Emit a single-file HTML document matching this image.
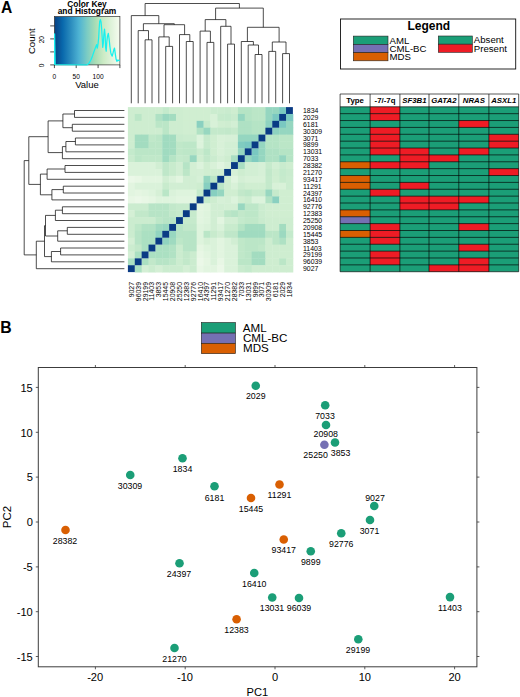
<!DOCTYPE html>
<html><head><meta charset="utf-8"><title>Figure</title>
<style>html,body{margin:0;padding:0;background:#fff}svg{display:block}</style></head>
<body>
<svg width="520" height="697" viewBox="0 0 520 697" font-family='"Liberation Sans", sans-serif'>
<rect width="520" height="697" fill="#fff"/>
<text x="0.9" y="13.3" font-size="15.6" font-weight="bold">A</text>
<text x="0.2" y="332.8" font-size="15.8" font-weight="bold">B</text>
<defs><linearGradient id="gk" x1="0" x2="1" y1="0" y2="0">
<stop offset="0.0000" stop-color="#084081"/>
<stop offset="0.1250" stop-color="#0868ac"/>
<stop offset="0.2500" stop-color="#2b8cbe"/>
<stop offset="0.3750" stop-color="#4eb3d3"/>
<stop offset="0.5000" stop-color="#7bccc4"/>
<stop offset="0.6250" stop-color="#a8ddb5"/>
<stop offset="0.7500" stop-color="#ccebc5"/>
<stop offset="0.8750" stop-color="#e0f3db"/>
<stop offset="1.0000" stop-color="#f7fcf0"/>
</linearGradient></defs>
<rect x="54.4" y="16.6" width="65.5" height="48.3" fill="url(#gk)"/>
<g font-weight="bold" font-size="8.4" text-anchor="middle"><text x="87" y="7.3">Color Key</text><text x="87" y="13.8">and Histogram</text></g>
<g stroke="#000" stroke-width="0.7" fill="none">
<rect x="54.4" y="16.6" width="65.5" height="48.3" stroke="#333"/>
<path d="M54.4 64.9v3.2"/>
<path d="M76.2 64.9v3.2"/>
<path d="M98.1 64.9v3.2"/>
<path d="M119.9 64.9v3.2"/>
<path d="M54.4 64.9h-4.2"/>
<path d="M54.4 51.9h-4.2"/>
<path d="M54.4 38.9h-4.2"/>
<path d="M54.4 25.9h-4.2"/>
</g>
<g font-size="6.6" text-anchor="middle">
<text x="54.4" y="78.7">0</text>
<text x="76.2" y="78.7">50</text>
<text x="98.1" y="78.7">100</text>
</g>
<text x="87" y="87.8" font-size="9.5" text-anchor="middle">Value</text>
<text transform="translate(35.2 41.2) rotate(-90)" font-size="9.7" text-anchor="middle">Count</text>
<text transform="translate(44.2 39.7) rotate(-90)" font-size="6.6" text-anchor="middle">20</text>
<text transform="translate(44.2 65.3) rotate(-90)" font-size="6.6" text-anchor="middle">0</text>
<polyline points="54.6,64.8 54.6,33.8 55.2,64.6 87.1,64.8 88.7,63.6 91.0,59.7 92.5,55.9 94.1,51.2 95.6,47.3 96.6,44.6 97.3,48.1 98.1,43.5 98.7,37.3 99.2,28.0 99.7,21.4 100.4,19.6 101.1,22.5 101.7,29.5 102.2,38.0 102.7,47.3 103.3,43.5 103.9,34.2 104.5,29.1 105.1,34.9 105.6,47.3 106.2,51.2 106.8,41.9 107.5,36.1 108.3,33.4 109.1,38.8 109.9,46.6 110.7,52.4 111.4,54.7 112.2,56.2 113.0,53.1 113.8,49.8 114.5,48.1 115.3,53.9 116.1,59.3 116.9,61.4 118.0,59.9 119.0,60.7 119.7,60.2" fill="none" stroke="#19f0ee" stroke-width="1.25" stroke-linejoin="round"/>
<g>
<rect x="127.90" y="107.10" width="7.28" height="7.28" fill="#ceedd0"/>
<rect x="134.78" y="107.10" width="7.28" height="7.28" fill="#ceedd0"/>
<rect x="141.65" y="107.10" width="7.28" height="7.28" fill="#ceedd0"/>
<rect x="148.53" y="107.10" width="7.28" height="7.28" fill="#ceedd0"/>
<rect x="155.40" y="107.10" width="7.28" height="7.28" fill="#ceedd0"/>
<rect x="162.28" y="107.10" width="7.28" height="7.28" fill="#c4eacc"/>
<rect x="169.15" y="107.10" width="7.28" height="7.28" fill="#ceedd0"/>
<rect x="176.03" y="107.10" width="7.28" height="7.28" fill="#ceedd0"/>
<rect x="182.90" y="107.10" width="7.28" height="7.28" fill="#d0eed1"/>
<rect x="189.78" y="107.10" width="7.28" height="7.28" fill="#d0eed1"/>
<rect x="196.65" y="107.10" width="7.28" height="7.28" fill="#d0eed1"/>
<rect x="203.53" y="107.10" width="7.28" height="7.28" fill="#d0eed1"/>
<rect x="210.40" y="107.10" width="7.28" height="7.28" fill="#cbeccf"/>
<rect x="217.28" y="107.10" width="7.28" height="7.28" fill="#cbeccf"/>
<rect x="224.15" y="107.10" width="7.28" height="7.28" fill="#c9ebce"/>
<rect x="231.03" y="107.10" width="7.28" height="7.28" fill="#ceedd0"/>
<rect x="237.90" y="107.10" width="7.28" height="7.28" fill="#b5e4c5"/>
<rect x="244.78" y="107.10" width="7.28" height="7.28" fill="#b5e4c5"/>
<rect x="251.65" y="107.10" width="7.28" height="7.28" fill="#bbe6c7"/>
<rect x="258.52" y="107.10" width="7.28" height="7.28" fill="#bbe6c7"/>
<rect x="265.40" y="107.10" width="7.28" height="7.28" fill="#95d6c0"/>
<rect x="272.27" y="107.10" width="7.28" height="7.28" fill="#95d6c0"/>
<rect x="279.15" y="107.10" width="7.28" height="7.28" fill="#7ac8c1"/>
<rect x="127.90" y="113.97" width="7.28" height="7.28" fill="#ceedd0"/>
<rect x="134.78" y="113.97" width="7.28" height="7.28" fill="#bbe6c7"/>
<rect x="141.65" y="113.97" width="7.28" height="7.28" fill="#ceedd0"/>
<rect x="148.53" y="113.97" width="7.28" height="7.28" fill="#ceedd0"/>
<rect x="155.40" y="113.97" width="7.28" height="7.28" fill="#afe1c4"/>
<rect x="162.28" y="113.97" width="7.28" height="7.28" fill="#9cd9c0"/>
<rect x="169.15" y="113.97" width="7.28" height="7.28" fill="#a3dcc0"/>
<rect x="176.03" y="113.97" width="7.28" height="7.28" fill="#ceedd0"/>
<rect x="182.90" y="113.97" width="7.28" height="7.28" fill="#d0eed1"/>
<rect x="189.78" y="113.97" width="7.28" height="7.28" fill="#d0eed1"/>
<rect x="196.65" y="113.97" width="7.28" height="7.28" fill="#d0eed1"/>
<rect x="203.53" y="113.97" width="7.28" height="7.28" fill="#d0eed1"/>
<rect x="210.40" y="113.97" width="7.28" height="7.28" fill="#d8f1d8"/>
<rect x="217.28" y="113.97" width="7.28" height="7.28" fill="#c6eacc"/>
<rect x="224.15" y="113.97" width="7.28" height="7.28" fill="#c4eacc"/>
<rect x="231.03" y="113.97" width="7.28" height="7.28" fill="#c9ebce"/>
<rect x="237.90" y="113.97" width="7.28" height="7.28" fill="#95d6c0"/>
<rect x="244.78" y="113.97" width="7.28" height="7.28" fill="#b5e4c5"/>
<rect x="251.65" y="113.97" width="7.28" height="7.28" fill="#bbe6c7"/>
<rect x="258.52" y="113.97" width="7.28" height="7.28" fill="#bbe6c7"/>
<rect x="265.40" y="113.97" width="7.28" height="7.28" fill="#95d6c0"/>
<rect x="272.27" y="113.97" width="7.28" height="7.28" fill="#7ac8c1"/>
<rect x="286.02" y="113.97" width="7.28" height="7.28" fill="#7ac8c1"/>
<rect x="127.90" y="120.85" width="7.28" height="7.28" fill="#ceedd0"/>
<rect x="134.78" y="120.85" width="7.28" height="7.28" fill="#ceedd0"/>
<rect x="141.65" y="120.85" width="7.28" height="7.28" fill="#ceedd0"/>
<rect x="148.53" y="120.85" width="7.28" height="7.28" fill="#ceedd0"/>
<rect x="155.40" y="120.85" width="7.28" height="7.28" fill="#bbe6c7"/>
<rect x="162.28" y="120.85" width="7.28" height="7.28" fill="#bbe6c7"/>
<rect x="169.15" y="120.85" width="7.28" height="7.28" fill="#ceedd0"/>
<rect x="176.03" y="120.85" width="7.28" height="7.28" fill="#ceedd0"/>
<rect x="182.90" y="120.85" width="7.28" height="7.28" fill="#d0eed1"/>
<rect x="189.78" y="120.85" width="7.28" height="7.28" fill="#d0eed1"/>
<rect x="196.65" y="120.85" width="7.28" height="7.28" fill="#8ad0c0"/>
<rect x="203.53" y="120.85" width="7.28" height="7.28" fill="#c6eacc"/>
<rect x="210.40" y="120.85" width="7.28" height="7.28" fill="#d8f1d8"/>
<rect x="217.28" y="120.85" width="7.28" height="7.28" fill="#d0eed1"/>
<rect x="224.15" y="120.85" width="7.28" height="7.28" fill="#ceedd0"/>
<rect x="231.03" y="120.85" width="7.28" height="7.28" fill="#d2efd4"/>
<rect x="237.90" y="120.85" width="7.28" height="7.28" fill="#afe1c4"/>
<rect x="244.78" y="120.85" width="7.28" height="7.28" fill="#afe1c4"/>
<rect x="251.65" y="120.85" width="7.28" height="7.28" fill="#b5e4c5"/>
<rect x="258.52" y="120.85" width="7.28" height="7.28" fill="#b5e4c5"/>
<rect x="265.40" y="120.85" width="7.28" height="7.28" fill="#8ed2c0"/>
<rect x="279.15" y="120.85" width="7.28" height="7.28" fill="#7ac8c1"/>
<rect x="286.02" y="120.85" width="7.28" height="7.28" fill="#95d6c0"/>
<rect x="127.90" y="127.72" width="7.28" height="7.28" fill="#ceedd0"/>
<rect x="134.78" y="127.72" width="7.28" height="7.28" fill="#ceedd0"/>
<rect x="141.65" y="127.72" width="7.28" height="7.28" fill="#ceedd0"/>
<rect x="148.53" y="127.72" width="7.28" height="7.28" fill="#ceedd0"/>
<rect x="155.40" y="127.72" width="7.28" height="7.28" fill="#ceedd0"/>
<rect x="162.28" y="127.72" width="7.28" height="7.28" fill="#bbe6c7"/>
<rect x="169.15" y="127.72" width="7.28" height="7.28" fill="#ceedd0"/>
<rect x="176.03" y="127.72" width="7.28" height="7.28" fill="#ceedd0"/>
<rect x="182.90" y="127.72" width="7.28" height="7.28" fill="#d0eed1"/>
<rect x="189.78" y="127.72" width="7.28" height="7.28" fill="#d0eed1"/>
<rect x="196.65" y="127.72" width="7.28" height="7.28" fill="#b1e2c4"/>
<rect x="203.53" y="127.72" width="7.28" height="7.28" fill="#98d7c0"/>
<rect x="210.40" y="127.72" width="7.28" height="7.28" fill="#c4e9cb"/>
<rect x="217.28" y="127.72" width="7.28" height="7.28" fill="#c4e9cb"/>
<rect x="224.15" y="127.72" width="7.28" height="7.28" fill="#c2e8ca"/>
<rect x="231.03" y="127.72" width="7.28" height="7.28" fill="#c6eacc"/>
<rect x="237.90" y="127.72" width="7.28" height="7.28" fill="#afe1c4"/>
<rect x="244.78" y="127.72" width="7.28" height="7.28" fill="#afe1c4"/>
<rect x="251.65" y="127.72" width="7.28" height="7.28" fill="#b5e4c5"/>
<rect x="258.52" y="127.72" width="7.28" height="7.28" fill="#b5e4c5"/>
<rect x="272.27" y="127.72" width="7.28" height="7.28" fill="#8ed2c0"/>
<rect x="279.15" y="127.72" width="7.28" height="7.28" fill="#95d6c0"/>
<rect x="286.02" y="127.72" width="7.28" height="7.28" fill="#95d6c0"/>
<rect x="127.90" y="134.60" width="7.28" height="7.28" fill="#ceedd0"/>
<rect x="134.78" y="134.60" width="7.28" height="7.28" fill="#a3dcc0"/>
<rect x="141.65" y="134.60" width="7.28" height="7.28" fill="#a3dcc0"/>
<rect x="148.53" y="134.60" width="7.28" height="7.28" fill="#c0e8c9"/>
<rect x="155.40" y="134.60" width="7.28" height="7.28" fill="#bbe6c7"/>
<rect x="162.28" y="134.60" width="7.28" height="7.28" fill="#a0dbc0"/>
<rect x="169.15" y="134.60" width="7.28" height="7.28" fill="#a3dcc0"/>
<rect x="176.03" y="134.60" width="7.28" height="7.28" fill="#c9ebce"/>
<rect x="182.90" y="134.60" width="7.28" height="7.28" fill="#cbeccf"/>
<rect x="189.78" y="134.60" width="7.28" height="7.28" fill="#cbeccf"/>
<rect x="196.65" y="134.60" width="7.28" height="7.28" fill="#dcf3dc"/>
<rect x="203.53" y="134.60" width="7.28" height="7.28" fill="#c6eacc"/>
<rect x="210.40" y="134.60" width="7.28" height="7.28" fill="#d0eed1"/>
<rect x="217.28" y="134.60" width="7.28" height="7.28" fill="#d8f1d8"/>
<rect x="224.15" y="134.60" width="7.28" height="7.28" fill="#d6f0d7"/>
<rect x="231.03" y="134.60" width="7.28" height="7.28" fill="#d6f0d7"/>
<rect x="237.90" y="134.60" width="7.28" height="7.28" fill="#95d6c0"/>
<rect x="244.78" y="134.60" width="7.28" height="7.28" fill="#95d6c0"/>
<rect x="251.65" y="134.60" width="7.28" height="7.28" fill="#95d6c0"/>
<rect x="265.40" y="134.60" width="7.28" height="7.28" fill="#b5e4c5"/>
<rect x="272.27" y="134.60" width="7.28" height="7.28" fill="#b5e4c5"/>
<rect x="279.15" y="134.60" width="7.28" height="7.28" fill="#bbe6c7"/>
<rect x="286.02" y="134.60" width="7.28" height="7.28" fill="#bbe6c7"/>
<rect x="127.90" y="141.47" width="7.28" height="7.28" fill="#ceedd0"/>
<rect x="134.78" y="141.47" width="7.28" height="7.28" fill="#a3dcc0"/>
<rect x="141.65" y="141.47" width="7.28" height="7.28" fill="#a3dcc0"/>
<rect x="148.53" y="141.47" width="7.28" height="7.28" fill="#bbe6c7"/>
<rect x="155.40" y="141.47" width="7.28" height="7.28" fill="#bbe6c7"/>
<rect x="162.28" y="141.47" width="7.28" height="7.28" fill="#a0dbc0"/>
<rect x="169.15" y="141.47" width="7.28" height="7.28" fill="#a3dcc0"/>
<rect x="176.03" y="141.47" width="7.28" height="7.28" fill="#c0e8c9"/>
<rect x="182.90" y="141.47" width="7.28" height="7.28" fill="#bde7c8"/>
<rect x="189.78" y="141.47" width="7.28" height="7.28" fill="#bde7c8"/>
<rect x="196.65" y="141.47" width="7.28" height="7.28" fill="#dcf3dc"/>
<rect x="203.53" y="141.47" width="7.28" height="7.28" fill="#c6eacc"/>
<rect x="210.40" y="141.47" width="7.28" height="7.28" fill="#d0eed1"/>
<rect x="217.28" y="141.47" width="7.28" height="7.28" fill="#d8f1d8"/>
<rect x="224.15" y="141.47" width="7.28" height="7.28" fill="#d2efd4"/>
<rect x="231.03" y="141.47" width="7.28" height="7.28" fill="#d2efd4"/>
<rect x="237.90" y="141.47" width="7.28" height="7.28" fill="#80ccc0"/>
<rect x="244.78" y="141.47" width="7.28" height="7.28" fill="#7ac8c1"/>
<rect x="258.52" y="141.47" width="7.28" height="7.28" fill="#95d6c0"/>
<rect x="265.40" y="141.47" width="7.28" height="7.28" fill="#b5e4c5"/>
<rect x="272.27" y="141.47" width="7.28" height="7.28" fill="#b5e4c5"/>
<rect x="279.15" y="141.47" width="7.28" height="7.28" fill="#bbe6c7"/>
<rect x="286.02" y="141.47" width="7.28" height="7.28" fill="#bbe6c7"/>
<rect x="127.90" y="148.35" width="7.28" height="7.28" fill="#c4eacc"/>
<rect x="134.78" y="148.35" width="7.28" height="7.28" fill="#bbe6c7"/>
<rect x="141.65" y="148.35" width="7.28" height="7.28" fill="#bbe6c7"/>
<rect x="148.53" y="148.35" width="7.28" height="7.28" fill="#bbe6c7"/>
<rect x="155.40" y="148.35" width="7.28" height="7.28" fill="#bbe6c7"/>
<rect x="162.28" y="148.35" width="7.28" height="7.28" fill="#a0dbc0"/>
<rect x="169.15" y="148.35" width="7.28" height="7.28" fill="#a3dcc0"/>
<rect x="176.03" y="148.35" width="7.28" height="7.28" fill="#c0e8c9"/>
<rect x="182.90" y="148.35" width="7.28" height="7.28" fill="#bde7c8"/>
<rect x="189.78" y="148.35" width="7.28" height="7.28" fill="#bde7c8"/>
<rect x="196.65" y="148.35" width="7.28" height="7.28" fill="#cbeccf"/>
<rect x="203.53" y="148.35" width="7.28" height="7.28" fill="#bde7c8"/>
<rect x="210.40" y="148.35" width="7.28" height="7.28" fill="#d0eed1"/>
<rect x="217.28" y="148.35" width="7.28" height="7.28" fill="#d8f1d8"/>
<rect x="224.15" y="148.35" width="7.28" height="7.28" fill="#d2efd4"/>
<rect x="231.03" y="148.35" width="7.28" height="7.28" fill="#d2efd4"/>
<rect x="237.90" y="148.35" width="7.28" height="7.28" fill="#95d6c0"/>
<rect x="251.65" y="148.35" width="7.28" height="7.28" fill="#7ac8c1"/>
<rect x="258.52" y="148.35" width="7.28" height="7.28" fill="#95d6c0"/>
<rect x="265.40" y="148.35" width="7.28" height="7.28" fill="#afe1c4"/>
<rect x="272.27" y="148.35" width="7.28" height="7.28" fill="#afe1c4"/>
<rect x="279.15" y="148.35" width="7.28" height="7.28" fill="#b5e4c5"/>
<rect x="286.02" y="148.35" width="7.28" height="7.28" fill="#b5e4c5"/>
<rect x="127.90" y="155.22" width="7.28" height="7.28" fill="#c9ebce"/>
<rect x="134.78" y="155.22" width="7.28" height="7.28" fill="#bbe6c7"/>
<rect x="141.65" y="155.22" width="7.28" height="7.28" fill="#c0e8c9"/>
<rect x="148.53" y="155.22" width="7.28" height="7.28" fill="#c0e8c9"/>
<rect x="155.40" y="155.22" width="7.28" height="7.28" fill="#c0e8c9"/>
<rect x="162.28" y="155.22" width="7.28" height="7.28" fill="#a0dbc0"/>
<rect x="169.15" y="155.22" width="7.28" height="7.28" fill="#b5e4c5"/>
<rect x="176.03" y="155.22" width="7.28" height="7.28" fill="#c4eacc"/>
<rect x="182.90" y="155.22" width="7.28" height="7.28" fill="#c2e8ca"/>
<rect x="189.78" y="155.22" width="7.28" height="7.28" fill="#98d7c0"/>
<rect x="196.65" y="155.22" width="7.28" height="7.28" fill="#d0eed1"/>
<rect x="203.53" y="155.22" width="7.28" height="7.28" fill="#c2e8ca"/>
<rect x="210.40" y="155.22" width="7.28" height="7.28" fill="#cbeccf"/>
<rect x="217.28" y="155.22" width="7.28" height="7.28" fill="#d4efd5"/>
<rect x="224.15" y="155.22" width="7.28" height="7.28" fill="#ceedd0"/>
<rect x="231.03" y="155.22" width="7.28" height="7.28" fill="#a9dec2"/>
<rect x="244.78" y="155.22" width="7.28" height="7.28" fill="#95d6c0"/>
<rect x="251.65" y="155.22" width="7.28" height="7.28" fill="#80ccc0"/>
<rect x="258.52" y="155.22" width="7.28" height="7.28" fill="#95d6c0"/>
<rect x="265.40" y="155.22" width="7.28" height="7.28" fill="#afe1c4"/>
<rect x="272.27" y="155.22" width="7.28" height="7.28" fill="#afe1c4"/>
<rect x="279.15" y="155.22" width="7.28" height="7.28" fill="#95d6c0"/>
<rect x="286.02" y="155.22" width="7.28" height="7.28" fill="#b5e4c5"/>
<rect x="127.90" y="162.10" width="7.28" height="7.28" fill="#daf2da"/>
<rect x="134.78" y="162.10" width="7.28" height="7.28" fill="#daf2da"/>
<rect x="141.65" y="162.10" width="7.28" height="7.28" fill="#daf2da"/>
<rect x="148.53" y="162.10" width="7.28" height="7.28" fill="#daf2da"/>
<rect x="155.40" y="162.10" width="7.28" height="7.28" fill="#d1eed3"/>
<rect x="162.28" y="162.10" width="7.28" height="7.28" fill="#bfe7c9"/>
<rect x="169.15" y="162.10" width="7.28" height="7.28" fill="#c8ebcd"/>
<rect x="176.03" y="162.10" width="7.28" height="7.28" fill="#d1eed3"/>
<rect x="182.90" y="162.10" width="7.28" height="7.28" fill="#b6e4c6"/>
<rect x="189.78" y="162.10" width="7.28" height="7.28" fill="#d3efd4"/>
<rect x="196.65" y="162.10" width="7.28" height="7.28" fill="#dcf3dc"/>
<rect x="203.53" y="162.10" width="7.28" height="7.28" fill="#d0eed1"/>
<rect x="210.40" y="162.10" width="7.28" height="7.28" fill="#d8f1d8"/>
<rect x="217.28" y="162.10" width="7.28" height="7.28" fill="#e0f4df"/>
<rect x="224.15" y="162.10" width="7.28" height="7.28" fill="#d6f0d7"/>
<rect x="237.90" y="162.10" width="7.28" height="7.28" fill="#a9dec2"/>
<rect x="244.78" y="162.10" width="7.28" height="7.28" fill="#d2efd4"/>
<rect x="251.65" y="162.10" width="7.28" height="7.28" fill="#d2efd4"/>
<rect x="258.52" y="162.10" width="7.28" height="7.28" fill="#d6f0d7"/>
<rect x="265.40" y="162.10" width="7.28" height="7.28" fill="#c6eacc"/>
<rect x="272.27" y="162.10" width="7.28" height="7.28" fill="#d2efd4"/>
<rect x="279.15" y="162.10" width="7.28" height="7.28" fill="#c9ebce"/>
<rect x="286.02" y="162.10" width="7.28" height="7.28" fill="#ceedd0"/>
<rect x="127.90" y="168.97" width="7.28" height="7.28" fill="#daf2da"/>
<rect x="134.78" y="168.97" width="7.28" height="7.28" fill="#daf2da"/>
<rect x="141.65" y="168.97" width="7.28" height="7.28" fill="#daf2da"/>
<rect x="148.53" y="168.97" width="7.28" height="7.28" fill="#daf2da"/>
<rect x="155.40" y="168.97" width="7.28" height="7.28" fill="#daf2da"/>
<rect x="162.28" y="168.97" width="7.28" height="7.28" fill="#bfe7c9"/>
<rect x="169.15" y="168.97" width="7.28" height="7.28" fill="#c8ebcd"/>
<rect x="176.03" y="168.97" width="7.28" height="7.28" fill="#d1eed3"/>
<rect x="182.90" y="168.97" width="7.28" height="7.28" fill="#bce6c7"/>
<rect x="189.78" y="168.97" width="7.28" height="7.28" fill="#d3efd4"/>
<rect x="196.65" y="168.97" width="7.28" height="7.28" fill="#d4efd5"/>
<rect x="203.53" y="168.97" width="7.28" height="7.28" fill="#d0eed1"/>
<rect x="210.40" y="168.97" width="7.28" height="7.28" fill="#d0eed1"/>
<rect x="217.28" y="168.97" width="7.28" height="7.28" fill="#d0eed1"/>
<rect x="231.03" y="168.97" width="7.28" height="7.28" fill="#d6f0d7"/>
<rect x="237.90" y="168.97" width="7.28" height="7.28" fill="#ceedd0"/>
<rect x="244.78" y="168.97" width="7.28" height="7.28" fill="#d2efd4"/>
<rect x="251.65" y="168.97" width="7.28" height="7.28" fill="#d2efd4"/>
<rect x="258.52" y="168.97" width="7.28" height="7.28" fill="#d6f0d7"/>
<rect x="265.40" y="168.97" width="7.28" height="7.28" fill="#c2e8ca"/>
<rect x="272.27" y="168.97" width="7.28" height="7.28" fill="#ceedd0"/>
<rect x="279.15" y="168.97" width="7.28" height="7.28" fill="#c4eacc"/>
<rect x="286.02" y="168.97" width="7.28" height="7.28" fill="#c9ebce"/>
<rect x="127.90" y="175.85" width="7.28" height="7.28" fill="#ebf8e8"/>
<rect x="134.78" y="175.85" width="7.28" height="7.28" fill="#e8f7e5"/>
<rect x="141.65" y="175.85" width="7.28" height="7.28" fill="#e2f5e0"/>
<rect x="148.53" y="175.85" width="7.28" height="7.28" fill="#e2f5e0"/>
<rect x="155.40" y="175.85" width="7.28" height="7.28" fill="#e2f5e0"/>
<rect x="162.28" y="175.85" width="7.28" height="7.28" fill="#d1eed3"/>
<rect x="169.15" y="175.85" width="7.28" height="7.28" fill="#daf2da"/>
<rect x="176.03" y="175.85" width="7.28" height="7.28" fill="#e2f5e0"/>
<rect x="182.90" y="175.85" width="7.28" height="7.28" fill="#d1eed3"/>
<rect x="189.78" y="175.85" width="7.28" height="7.28" fill="#d1eed3"/>
<rect x="196.65" y="175.85" width="7.28" height="7.28" fill="#d6f0d7"/>
<rect x="203.53" y="175.85" width="7.28" height="7.28" fill="#95d6c0"/>
<rect x="210.40" y="175.85" width="7.28" height="7.28" fill="#bbe6c7"/>
<rect x="224.15" y="175.85" width="7.28" height="7.28" fill="#d0eed1"/>
<rect x="231.03" y="175.85" width="7.28" height="7.28" fill="#e0f4df"/>
<rect x="237.90" y="175.85" width="7.28" height="7.28" fill="#d4efd5"/>
<rect x="244.78" y="175.85" width="7.28" height="7.28" fill="#d8f1d8"/>
<rect x="251.65" y="175.85" width="7.28" height="7.28" fill="#d8f1d8"/>
<rect x="258.52" y="175.85" width="7.28" height="7.28" fill="#d8f1d8"/>
<rect x="265.40" y="175.85" width="7.28" height="7.28" fill="#c4e9cb"/>
<rect x="272.27" y="175.85" width="7.28" height="7.28" fill="#d0eed1"/>
<rect x="279.15" y="175.85" width="7.28" height="7.28" fill="#c6eacc"/>
<rect x="286.02" y="175.85" width="7.28" height="7.28" fill="#cbeccf"/>
<rect x="127.90" y="182.72" width="7.28" height="7.28" fill="#e2f5e0"/>
<rect x="134.78" y="182.72" width="7.28" height="7.28" fill="#daf2da"/>
<rect x="141.65" y="182.72" width="7.28" height="7.28" fill="#daf2da"/>
<rect x="148.53" y="182.72" width="7.28" height="7.28" fill="#daf2da"/>
<rect x="155.40" y="182.72" width="7.28" height="7.28" fill="#daf2da"/>
<rect x="162.28" y="182.72" width="7.28" height="7.28" fill="#c8ebcd"/>
<rect x="169.15" y="182.72" width="7.28" height="7.28" fill="#d1eed3"/>
<rect x="176.03" y="182.72" width="7.28" height="7.28" fill="#d1eed3"/>
<rect x="182.90" y="182.72" width="7.28" height="7.28" fill="#d1eed3"/>
<rect x="189.78" y="182.72" width="7.28" height="7.28" fill="#d1eed3"/>
<rect x="196.65" y="182.72" width="7.28" height="7.28" fill="#ceedd0"/>
<rect x="203.53" y="182.72" width="7.28" height="7.28" fill="#87cfc0"/>
<rect x="217.28" y="182.72" width="7.28" height="7.28" fill="#bbe6c7"/>
<rect x="224.15" y="182.72" width="7.28" height="7.28" fill="#d0eed1"/>
<rect x="231.03" y="182.72" width="7.28" height="7.28" fill="#d8f1d8"/>
<rect x="237.90" y="182.72" width="7.28" height="7.28" fill="#cbeccf"/>
<rect x="244.78" y="182.72" width="7.28" height="7.28" fill="#d0eed1"/>
<rect x="251.65" y="182.72" width="7.28" height="7.28" fill="#d0eed1"/>
<rect x="258.52" y="182.72" width="7.28" height="7.28" fill="#d0eed1"/>
<rect x="265.40" y="182.72" width="7.28" height="7.28" fill="#c4e9cb"/>
<rect x="272.27" y="182.72" width="7.28" height="7.28" fill="#d8f1d8"/>
<rect x="279.15" y="182.72" width="7.28" height="7.28" fill="#d8f1d8"/>
<rect x="286.02" y="182.72" width="7.28" height="7.28" fill="#cbeccf"/>
<rect x="127.90" y="189.60" width="7.28" height="7.28" fill="#e2f5e0"/>
<rect x="134.78" y="189.60" width="7.28" height="7.28" fill="#e5f6e2"/>
<rect x="141.65" y="189.60" width="7.28" height="7.28" fill="#e2f5e0"/>
<rect x="148.53" y="189.60" width="7.28" height="7.28" fill="#def4dd"/>
<rect x="155.40" y="189.60" width="7.28" height="7.28" fill="#d6f0d6"/>
<rect x="162.28" y="189.60" width="7.28" height="7.28" fill="#bae6c7"/>
<rect x="169.15" y="189.60" width="7.28" height="7.28" fill="#daf2da"/>
<rect x="176.03" y="189.60" width="7.28" height="7.28" fill="#def4dd"/>
<rect x="182.90" y="189.60" width="7.28" height="7.28" fill="#def4dd"/>
<rect x="189.78" y="189.60" width="7.28" height="7.28" fill="#def4dd"/>
<rect x="196.65" y="189.60" width="7.28" height="7.28" fill="#c4eacc"/>
<rect x="210.40" y="189.60" width="7.28" height="7.28" fill="#87cfc0"/>
<rect x="217.28" y="189.60" width="7.28" height="7.28" fill="#95d6c0"/>
<rect x="224.15" y="189.60" width="7.28" height="7.28" fill="#d0eed1"/>
<rect x="231.03" y="189.60" width="7.28" height="7.28" fill="#d0eed1"/>
<rect x="237.90" y="189.60" width="7.28" height="7.28" fill="#c2e8ca"/>
<rect x="244.78" y="189.60" width="7.28" height="7.28" fill="#bde7c8"/>
<rect x="251.65" y="189.60" width="7.28" height="7.28" fill="#c6eacc"/>
<rect x="258.52" y="189.60" width="7.28" height="7.28" fill="#c6eacc"/>
<rect x="265.40" y="189.60" width="7.28" height="7.28" fill="#98d7c0"/>
<rect x="272.27" y="189.60" width="7.28" height="7.28" fill="#c6eacc"/>
<rect x="279.15" y="189.60" width="7.28" height="7.28" fill="#d0eed1"/>
<rect x="286.02" y="189.60" width="7.28" height="7.28" fill="#d0eed1"/>
<rect x="127.90" y="196.47" width="7.28" height="7.28" fill="#e8f7e5"/>
<rect x="134.78" y="196.47" width="7.28" height="7.28" fill="#ebf8e8"/>
<rect x="141.65" y="196.47" width="7.28" height="7.28" fill="#e8f7e5"/>
<rect x="148.53" y="196.47" width="7.28" height="7.28" fill="#e5f6e2"/>
<rect x="155.40" y="196.47" width="7.28" height="7.28" fill="#def4dd"/>
<rect x="162.28" y="196.47" width="7.28" height="7.28" fill="#def4dd"/>
<rect x="169.15" y="196.47" width="7.28" height="7.28" fill="#def4dd"/>
<rect x="176.03" y="196.47" width="7.28" height="7.28" fill="#e2f5e0"/>
<rect x="182.90" y="196.47" width="7.28" height="7.28" fill="#e2f5e0"/>
<rect x="189.78" y="196.47" width="7.28" height="7.28" fill="#e2f5e0"/>
<rect x="203.53" y="196.47" width="7.28" height="7.28" fill="#c4eacc"/>
<rect x="210.40" y="196.47" width="7.28" height="7.28" fill="#ceedd0"/>
<rect x="217.28" y="196.47" width="7.28" height="7.28" fill="#d6f0d7"/>
<rect x="224.15" y="196.47" width="7.28" height="7.28" fill="#d4efd5"/>
<rect x="231.03" y="196.47" width="7.28" height="7.28" fill="#dcf3dc"/>
<rect x="237.90" y="196.47" width="7.28" height="7.28" fill="#d0eed1"/>
<rect x="244.78" y="196.47" width="7.28" height="7.28" fill="#cbeccf"/>
<rect x="251.65" y="196.47" width="7.28" height="7.28" fill="#dcf3dc"/>
<rect x="258.52" y="196.47" width="7.28" height="7.28" fill="#dcf3dc"/>
<rect x="265.40" y="196.47" width="7.28" height="7.28" fill="#b1e2c4"/>
<rect x="272.27" y="196.47" width="7.28" height="7.28" fill="#8ad0c0"/>
<rect x="279.15" y="196.47" width="7.28" height="7.28" fill="#d0eed1"/>
<rect x="286.02" y="196.47" width="7.28" height="7.28" fill="#d0eed1"/>
<rect x="127.90" y="203.35" width="7.28" height="7.28" fill="#cbeccf"/>
<rect x="134.78" y="203.35" width="7.28" height="7.28" fill="#cbeccf"/>
<rect x="141.65" y="203.35" width="7.28" height="7.28" fill="#cbeccf"/>
<rect x="148.53" y="203.35" width="7.28" height="7.28" fill="#b7e4c6"/>
<rect x="155.40" y="203.35" width="7.28" height="7.28" fill="#b7e4c6"/>
<rect x="162.28" y="203.35" width="7.28" height="7.28" fill="#b7e4c6"/>
<rect x="169.15" y="203.35" width="7.28" height="7.28" fill="#c2e8ca"/>
<rect x="176.03" y="203.35" width="7.28" height="7.28" fill="#c6eacc"/>
<rect x="182.90" y="203.35" width="7.28" height="7.28" fill="#c6eacc"/>
<rect x="196.65" y="203.35" width="7.28" height="7.28" fill="#e2f5e0"/>
<rect x="203.53" y="203.35" width="7.28" height="7.28" fill="#def4dd"/>
<rect x="210.40" y="203.35" width="7.28" height="7.28" fill="#d1eed3"/>
<rect x="217.28" y="203.35" width="7.28" height="7.28" fill="#d1eed3"/>
<rect x="224.15" y="203.35" width="7.28" height="7.28" fill="#d3efd4"/>
<rect x="231.03" y="203.35" width="7.28" height="7.28" fill="#d3efd4"/>
<rect x="237.90" y="203.35" width="7.28" height="7.28" fill="#98d7c0"/>
<rect x="244.78" y="203.35" width="7.28" height="7.28" fill="#bde7c8"/>
<rect x="251.65" y="203.35" width="7.28" height="7.28" fill="#bde7c8"/>
<rect x="258.52" y="203.35" width="7.28" height="7.28" fill="#cbeccf"/>
<rect x="265.40" y="203.35" width="7.28" height="7.28" fill="#d0eed1"/>
<rect x="272.27" y="203.35" width="7.28" height="7.28" fill="#d0eed1"/>
<rect x="279.15" y="203.35" width="7.28" height="7.28" fill="#d0eed1"/>
<rect x="286.02" y="203.35" width="7.28" height="7.28" fill="#d0eed1"/>
<rect x="127.90" y="210.22" width="7.28" height="7.28" fill="#d4efd5"/>
<rect x="134.78" y="210.22" width="7.28" height="7.28" fill="#c2e8ca"/>
<rect x="141.65" y="210.22" width="7.28" height="7.28" fill="#c2e8ca"/>
<rect x="148.53" y="210.22" width="7.28" height="7.28" fill="#b7e4c6"/>
<rect x="155.40" y="210.22" width="7.28" height="7.28" fill="#b7e4c6"/>
<rect x="162.28" y="210.22" width="7.28" height="7.28" fill="#b7e4c6"/>
<rect x="169.15" y="210.22" width="7.28" height="7.28" fill="#c2e8ca"/>
<rect x="176.03" y="210.22" width="7.28" height="7.28" fill="#c6eacc"/>
<rect x="189.78" y="210.22" width="7.28" height="7.28" fill="#c6eacc"/>
<rect x="196.65" y="210.22" width="7.28" height="7.28" fill="#e2f5e0"/>
<rect x="203.53" y="210.22" width="7.28" height="7.28" fill="#def4dd"/>
<rect x="210.40" y="210.22" width="7.28" height="7.28" fill="#d1eed3"/>
<rect x="217.28" y="210.22" width="7.28" height="7.28" fill="#d1eed3"/>
<rect x="224.15" y="210.22" width="7.28" height="7.28" fill="#bce6c7"/>
<rect x="231.03" y="210.22" width="7.28" height="7.28" fill="#b6e4c6"/>
<rect x="237.90" y="210.22" width="7.28" height="7.28" fill="#c2e8ca"/>
<rect x="244.78" y="210.22" width="7.28" height="7.28" fill="#bde7c8"/>
<rect x="251.65" y="210.22" width="7.28" height="7.28" fill="#bde7c8"/>
<rect x="258.52" y="210.22" width="7.28" height="7.28" fill="#cbeccf"/>
<rect x="265.40" y="210.22" width="7.28" height="7.28" fill="#d0eed1"/>
<rect x="272.27" y="210.22" width="7.28" height="7.28" fill="#d0eed1"/>
<rect x="279.15" y="210.22" width="7.28" height="7.28" fill="#d0eed1"/>
<rect x="286.02" y="210.22" width="7.28" height="7.28" fill="#d0eed1"/>
<rect x="127.90" y="217.10" width="7.28" height="7.28" fill="#cbeccf"/>
<rect x="134.78" y="217.10" width="7.28" height="7.28" fill="#cbeccf"/>
<rect x="141.65" y="217.10" width="7.28" height="7.28" fill="#cbeccf"/>
<rect x="148.53" y="217.10" width="7.28" height="7.28" fill="#cbeccf"/>
<rect x="155.40" y="217.10" width="7.28" height="7.28" fill="#bde7c8"/>
<rect x="162.28" y="217.10" width="7.28" height="7.28" fill="#b7e4c6"/>
<rect x="169.15" y="217.10" width="7.28" height="7.28" fill="#b7e4c6"/>
<rect x="182.90" y="217.10" width="7.28" height="7.28" fill="#c6eacc"/>
<rect x="189.78" y="217.10" width="7.28" height="7.28" fill="#c6eacc"/>
<rect x="196.65" y="217.10" width="7.28" height="7.28" fill="#e2f5e0"/>
<rect x="203.53" y="217.10" width="7.28" height="7.28" fill="#def4dd"/>
<rect x="210.40" y="217.10" width="7.28" height="7.28" fill="#d1eed3"/>
<rect x="217.28" y="217.10" width="7.28" height="7.28" fill="#e2f5e0"/>
<rect x="224.15" y="217.10" width="7.28" height="7.28" fill="#d1eed3"/>
<rect x="231.03" y="217.10" width="7.28" height="7.28" fill="#d1eed3"/>
<rect x="237.90" y="217.10" width="7.28" height="7.28" fill="#c4eacc"/>
<rect x="244.78" y="217.10" width="7.28" height="7.28" fill="#c0e8c9"/>
<rect x="251.65" y="217.10" width="7.28" height="7.28" fill="#c0e8c9"/>
<rect x="258.52" y="217.10" width="7.28" height="7.28" fill="#c9ebce"/>
<rect x="265.40" y="217.10" width="7.28" height="7.28" fill="#ceedd0"/>
<rect x="272.27" y="217.10" width="7.28" height="7.28" fill="#ceedd0"/>
<rect x="279.15" y="217.10" width="7.28" height="7.28" fill="#ceedd0"/>
<rect x="286.02" y="217.10" width="7.28" height="7.28" fill="#ceedd0"/>
<rect x="127.90" y="223.97" width="7.28" height="7.28" fill="#cbeccf"/>
<rect x="134.78" y="223.97" width="7.28" height="7.28" fill="#bde7c8"/>
<rect x="141.65" y="223.97" width="7.28" height="7.28" fill="#b1e2c4"/>
<rect x="148.53" y="223.97" width="7.28" height="7.28" fill="#b1e2c4"/>
<rect x="155.40" y="223.97" width="7.28" height="7.28" fill="#9fdac0"/>
<rect x="162.28" y="223.97" width="7.28" height="7.28" fill="#98d7c0"/>
<rect x="176.03" y="223.97" width="7.28" height="7.28" fill="#b7e4c6"/>
<rect x="182.90" y="223.97" width="7.28" height="7.28" fill="#c2e8ca"/>
<rect x="189.78" y="223.97" width="7.28" height="7.28" fill="#c2e8ca"/>
<rect x="196.65" y="223.97" width="7.28" height="7.28" fill="#def4dd"/>
<rect x="203.53" y="223.97" width="7.28" height="7.28" fill="#daf2da"/>
<rect x="210.40" y="223.97" width="7.28" height="7.28" fill="#d1eed3"/>
<rect x="217.28" y="223.97" width="7.28" height="7.28" fill="#daf2da"/>
<rect x="224.15" y="223.97" width="7.28" height="7.28" fill="#c8ebcd"/>
<rect x="231.03" y="223.97" width="7.28" height="7.28" fill="#c8ebcd"/>
<rect x="237.90" y="223.97" width="7.28" height="7.28" fill="#b5e4c5"/>
<rect x="244.78" y="223.97" width="7.28" height="7.28" fill="#a3dcc0"/>
<rect x="251.65" y="223.97" width="7.28" height="7.28" fill="#a3dcc0"/>
<rect x="258.52" y="223.97" width="7.28" height="7.28" fill="#a3dcc0"/>
<rect x="265.40" y="223.97" width="7.28" height="7.28" fill="#ceedd0"/>
<rect x="272.27" y="223.97" width="7.28" height="7.28" fill="#ceedd0"/>
<rect x="279.15" y="223.97" width="7.28" height="7.28" fill="#a3dcc0"/>
<rect x="286.02" y="223.97" width="7.28" height="7.28" fill="#ceedd0"/>
<rect x="127.90" y="230.85" width="7.28" height="7.28" fill="#cbeccf"/>
<rect x="134.78" y="230.85" width="7.28" height="7.28" fill="#b7e4c6"/>
<rect x="141.65" y="230.85" width="7.28" height="7.28" fill="#abe0c2"/>
<rect x="148.53" y="230.85" width="7.28" height="7.28" fill="#abe0c2"/>
<rect x="155.40" y="230.85" width="7.28" height="7.28" fill="#91d4c0"/>
<rect x="169.15" y="230.85" width="7.28" height="7.28" fill="#98d7c0"/>
<rect x="176.03" y="230.85" width="7.28" height="7.28" fill="#b7e4c6"/>
<rect x="182.90" y="230.85" width="7.28" height="7.28" fill="#b7e4c6"/>
<rect x="189.78" y="230.85" width="7.28" height="7.28" fill="#b7e4c6"/>
<rect x="196.65" y="230.85" width="7.28" height="7.28" fill="#def4dd"/>
<rect x="203.53" y="230.85" width="7.28" height="7.28" fill="#bae6c7"/>
<rect x="210.40" y="230.85" width="7.28" height="7.28" fill="#c8ebcd"/>
<rect x="217.28" y="230.85" width="7.28" height="7.28" fill="#d1eed3"/>
<rect x="224.15" y="230.85" width="7.28" height="7.28" fill="#bfe7c9"/>
<rect x="231.03" y="230.85" width="7.28" height="7.28" fill="#bfe7c9"/>
<rect x="237.90" y="230.85" width="7.28" height="7.28" fill="#a0dbc0"/>
<rect x="244.78" y="230.85" width="7.28" height="7.28" fill="#a0dbc0"/>
<rect x="251.65" y="230.85" width="7.28" height="7.28" fill="#a0dbc0"/>
<rect x="258.52" y="230.85" width="7.28" height="7.28" fill="#a0dbc0"/>
<rect x="265.40" y="230.85" width="7.28" height="7.28" fill="#bbe6c7"/>
<rect x="272.27" y="230.85" width="7.28" height="7.28" fill="#bbe6c7"/>
<rect x="279.15" y="230.85" width="7.28" height="7.28" fill="#9cd9c0"/>
<rect x="286.02" y="230.85" width="7.28" height="7.28" fill="#c4eacc"/>
<rect x="127.90" y="237.72" width="7.28" height="7.28" fill="#d4efd5"/>
<rect x="134.78" y="237.72" width="7.28" height="7.28" fill="#b7e4c6"/>
<rect x="141.65" y="237.72" width="7.28" height="7.28" fill="#abe0c2"/>
<rect x="148.53" y="237.72" width="7.28" height="7.28" fill="#abe0c2"/>
<rect x="162.28" y="237.72" width="7.28" height="7.28" fill="#91d4c0"/>
<rect x="169.15" y="237.72" width="7.28" height="7.28" fill="#9fdac0"/>
<rect x="176.03" y="237.72" width="7.28" height="7.28" fill="#bde7c8"/>
<rect x="182.90" y="237.72" width="7.28" height="7.28" fill="#b7e4c6"/>
<rect x="189.78" y="237.72" width="7.28" height="7.28" fill="#b7e4c6"/>
<rect x="196.65" y="237.72" width="7.28" height="7.28" fill="#def4dd"/>
<rect x="203.53" y="237.72" width="7.28" height="7.28" fill="#d6f0d6"/>
<rect x="210.40" y="237.72" width="7.28" height="7.28" fill="#daf2da"/>
<rect x="217.28" y="237.72" width="7.28" height="7.28" fill="#e2f5e0"/>
<rect x="224.15" y="237.72" width="7.28" height="7.28" fill="#daf2da"/>
<rect x="231.03" y="237.72" width="7.28" height="7.28" fill="#d1eed3"/>
<rect x="237.90" y="237.72" width="7.28" height="7.28" fill="#c0e8c9"/>
<rect x="244.78" y="237.72" width="7.28" height="7.28" fill="#bbe6c7"/>
<rect x="251.65" y="237.72" width="7.28" height="7.28" fill="#bbe6c7"/>
<rect x="258.52" y="237.72" width="7.28" height="7.28" fill="#bbe6c7"/>
<rect x="265.40" y="237.72" width="7.28" height="7.28" fill="#ceedd0"/>
<rect x="272.27" y="237.72" width="7.28" height="7.28" fill="#bbe6c7"/>
<rect x="279.15" y="237.72" width="7.28" height="7.28" fill="#afe1c4"/>
<rect x="286.02" y="237.72" width="7.28" height="7.28" fill="#ceedd0"/>
<rect x="127.90" y="244.60" width="7.28" height="7.28" fill="#cbeccf"/>
<rect x="134.78" y="244.60" width="7.28" height="7.28" fill="#c2e8ca"/>
<rect x="141.65" y="244.60" width="7.28" height="7.28" fill="#abe0c2"/>
<rect x="155.40" y="244.60" width="7.28" height="7.28" fill="#abe0c2"/>
<rect x="162.28" y="244.60" width="7.28" height="7.28" fill="#abe0c2"/>
<rect x="169.15" y="244.60" width="7.28" height="7.28" fill="#b1e2c4"/>
<rect x="176.03" y="244.60" width="7.28" height="7.28" fill="#cbeccf"/>
<rect x="182.90" y="244.60" width="7.28" height="7.28" fill="#b7e4c6"/>
<rect x="189.78" y="244.60" width="7.28" height="7.28" fill="#b7e4c6"/>
<rect x="196.65" y="244.60" width="7.28" height="7.28" fill="#e5f6e2"/>
<rect x="203.53" y="244.60" width="7.28" height="7.28" fill="#def4dd"/>
<rect x="210.40" y="244.60" width="7.28" height="7.28" fill="#daf2da"/>
<rect x="217.28" y="244.60" width="7.28" height="7.28" fill="#e2f5e0"/>
<rect x="224.15" y="244.60" width="7.28" height="7.28" fill="#daf2da"/>
<rect x="231.03" y="244.60" width="7.28" height="7.28" fill="#daf2da"/>
<rect x="237.90" y="244.60" width="7.28" height="7.28" fill="#c0e8c9"/>
<rect x="244.78" y="244.60" width="7.28" height="7.28" fill="#bbe6c7"/>
<rect x="251.65" y="244.60" width="7.28" height="7.28" fill="#bbe6c7"/>
<rect x="258.52" y="244.60" width="7.28" height="7.28" fill="#c0e8c9"/>
<rect x="265.40" y="244.60" width="7.28" height="7.28" fill="#ceedd0"/>
<rect x="272.27" y="244.60" width="7.28" height="7.28" fill="#ceedd0"/>
<rect x="279.15" y="244.60" width="7.28" height="7.28" fill="#ceedd0"/>
<rect x="286.02" y="244.60" width="7.28" height="7.28" fill="#ceedd0"/>
<rect x="127.90" y="251.47" width="7.28" height="7.28" fill="#d4efd5"/>
<rect x="134.78" y="251.47" width="7.28" height="7.28" fill="#abe0c2"/>
<rect x="148.53" y="251.47" width="7.28" height="7.28" fill="#abe0c2"/>
<rect x="155.40" y="251.47" width="7.28" height="7.28" fill="#abe0c2"/>
<rect x="162.28" y="251.47" width="7.28" height="7.28" fill="#abe0c2"/>
<rect x="169.15" y="251.47" width="7.28" height="7.28" fill="#b1e2c4"/>
<rect x="176.03" y="251.47" width="7.28" height="7.28" fill="#cbeccf"/>
<rect x="182.90" y="251.47" width="7.28" height="7.28" fill="#c2e8ca"/>
<rect x="189.78" y="251.47" width="7.28" height="7.28" fill="#cbeccf"/>
<rect x="196.65" y="251.47" width="7.28" height="7.28" fill="#e8f7e5"/>
<rect x="203.53" y="251.47" width="7.28" height="7.28" fill="#e2f5e0"/>
<rect x="210.40" y="251.47" width="7.28" height="7.28" fill="#daf2da"/>
<rect x="217.28" y="251.47" width="7.28" height="7.28" fill="#e2f5e0"/>
<rect x="224.15" y="251.47" width="7.28" height="7.28" fill="#daf2da"/>
<rect x="231.03" y="251.47" width="7.28" height="7.28" fill="#daf2da"/>
<rect x="237.90" y="251.47" width="7.28" height="7.28" fill="#c0e8c9"/>
<rect x="244.78" y="251.47" width="7.28" height="7.28" fill="#bbe6c7"/>
<rect x="251.65" y="251.47" width="7.28" height="7.28" fill="#a3dcc0"/>
<rect x="258.52" y="251.47" width="7.28" height="7.28" fill="#a3dcc0"/>
<rect x="265.40" y="251.47" width="7.28" height="7.28" fill="#ceedd0"/>
<rect x="272.27" y="251.47" width="7.28" height="7.28" fill="#ceedd0"/>
<rect x="279.15" y="251.47" width="7.28" height="7.28" fill="#ceedd0"/>
<rect x="286.02" y="251.47" width="7.28" height="7.28" fill="#ceedd0"/>
<rect x="127.90" y="258.35" width="7.28" height="7.28" fill="#abe0c2"/>
<rect x="141.65" y="258.35" width="7.28" height="7.28" fill="#abe0c2"/>
<rect x="148.53" y="258.35" width="7.28" height="7.28" fill="#c2e8ca"/>
<rect x="155.40" y="258.35" width="7.28" height="7.28" fill="#b7e4c6"/>
<rect x="162.28" y="258.35" width="7.28" height="7.28" fill="#b7e4c6"/>
<rect x="169.15" y="258.35" width="7.28" height="7.28" fill="#bde7c8"/>
<rect x="176.03" y="258.35" width="7.28" height="7.28" fill="#cbeccf"/>
<rect x="182.90" y="258.35" width="7.28" height="7.28" fill="#c2e8ca"/>
<rect x="189.78" y="258.35" width="7.28" height="7.28" fill="#cbeccf"/>
<rect x="196.65" y="258.35" width="7.28" height="7.28" fill="#ebf8e8"/>
<rect x="203.53" y="258.35" width="7.28" height="7.28" fill="#e5f6e2"/>
<rect x="210.40" y="258.35" width="7.28" height="7.28" fill="#daf2da"/>
<rect x="217.28" y="258.35" width="7.28" height="7.28" fill="#e8f7e5"/>
<rect x="224.15" y="258.35" width="7.28" height="7.28" fill="#daf2da"/>
<rect x="231.03" y="258.35" width="7.28" height="7.28" fill="#daf2da"/>
<rect x="237.90" y="258.35" width="7.28" height="7.28" fill="#bbe6c7"/>
<rect x="244.78" y="258.35" width="7.28" height="7.28" fill="#bbe6c7"/>
<rect x="251.65" y="258.35" width="7.28" height="7.28" fill="#a3dcc0"/>
<rect x="258.52" y="258.35" width="7.28" height="7.28" fill="#a3dcc0"/>
<rect x="265.40" y="258.35" width="7.28" height="7.28" fill="#ceedd0"/>
<rect x="272.27" y="258.35" width="7.28" height="7.28" fill="#ceedd0"/>
<rect x="279.15" y="258.35" width="7.28" height="7.28" fill="#bbe6c7"/>
<rect x="286.02" y="258.35" width="7.28" height="7.28" fill="#ceedd0"/>
<rect x="134.78" y="265.23" width="7.28" height="7.28" fill="#abe0c2"/>
<rect x="141.65" y="265.23" width="7.28" height="7.28" fill="#d4efd5"/>
<rect x="148.53" y="265.23" width="7.28" height="7.28" fill="#cbeccf"/>
<rect x="155.40" y="265.23" width="7.28" height="7.28" fill="#d4efd5"/>
<rect x="162.28" y="265.23" width="7.28" height="7.28" fill="#cbeccf"/>
<rect x="169.15" y="265.23" width="7.28" height="7.28" fill="#cbeccf"/>
<rect x="176.03" y="265.23" width="7.28" height="7.28" fill="#cbeccf"/>
<rect x="182.90" y="265.23" width="7.28" height="7.28" fill="#d4efd5"/>
<rect x="189.78" y="265.23" width="7.28" height="7.28" fill="#cbeccf"/>
<rect x="196.65" y="265.23" width="7.28" height="7.28" fill="#e8f7e5"/>
<rect x="203.53" y="265.23" width="7.28" height="7.28" fill="#e2f5e0"/>
<rect x="210.40" y="265.23" width="7.28" height="7.28" fill="#e2f5e0"/>
<rect x="217.28" y="265.23" width="7.28" height="7.28" fill="#ebf8e8"/>
<rect x="224.15" y="265.23" width="7.28" height="7.28" fill="#daf2da"/>
<rect x="231.03" y="265.23" width="7.28" height="7.28" fill="#daf2da"/>
<rect x="237.90" y="265.23" width="7.28" height="7.28" fill="#c9ebce"/>
<rect x="244.78" y="265.23" width="7.28" height="7.28" fill="#c4eacc"/>
<rect x="251.65" y="265.23" width="7.28" height="7.28" fill="#ceedd0"/>
<rect x="258.52" y="265.23" width="7.28" height="7.28" fill="#ceedd0"/>
<rect x="265.40" y="265.23" width="7.28" height="7.28" fill="#ceedd0"/>
<rect x="272.27" y="265.23" width="7.28" height="7.28" fill="#ceedd0"/>
<rect x="279.15" y="265.23" width="7.28" height="7.28" fill="#ceedd0"/>
<rect x="286.02" y="265.23" width="7.28" height="7.28" fill="#ceedd0"/>
<rect x="286.02" y="107.10" width="6.88" height="6.88" fill="#0a3b84"/>
<rect x="279.15" y="113.97" width="6.88" height="6.88" fill="#0a3b84"/>
<rect x="272.27" y="120.85" width="6.88" height="6.88" fill="#0a3b84"/>
<rect x="265.40" y="127.72" width="6.88" height="6.88" fill="#0a3b84"/>
<rect x="258.52" y="134.60" width="6.88" height="6.88" fill="#0a3b84"/>
<rect x="251.65" y="141.47" width="6.88" height="6.88" fill="#0a3b84"/>
<rect x="244.78" y="148.35" width="6.88" height="6.88" fill="#0a3b84"/>
<rect x="237.90" y="155.22" width="6.88" height="6.88" fill="#0a3b84"/>
<rect x="231.03" y="162.10" width="6.88" height="6.88" fill="#0a3b84"/>
<rect x="224.15" y="168.97" width="6.88" height="6.88" fill="#0a3b84"/>
<rect x="217.28" y="175.85" width="6.88" height="6.88" fill="#0a3b84"/>
<rect x="210.40" y="182.72" width="6.88" height="6.88" fill="#0a3b84"/>
<rect x="203.53" y="189.60" width="6.88" height="6.88" fill="#0a3b84"/>
<rect x="196.65" y="196.47" width="6.88" height="6.88" fill="#0a3b84"/>
<rect x="189.78" y="203.35" width="6.88" height="6.88" fill="#0a3b84"/>
<rect x="182.90" y="210.22" width="6.88" height="6.88" fill="#0a3b84"/>
<rect x="176.03" y="217.10" width="6.88" height="6.88" fill="#0a3b84"/>
<rect x="169.15" y="223.97" width="6.88" height="6.88" fill="#0a3b84"/>
<rect x="162.28" y="230.85" width="6.88" height="6.88" fill="#0a3b84"/>
<rect x="155.40" y="237.72" width="6.88" height="6.88" fill="#0a3b84"/>
<rect x="148.53" y="244.60" width="6.88" height="6.88" fill="#0a3b84"/>
<rect x="141.65" y="251.47" width="6.88" height="6.88" fill="#0a3b84"/>
<rect x="134.78" y="258.35" width="6.88" height="6.88" fill="#0a3b84"/>
<rect x="127.90" y="265.23" width="6.88" height="6.88" fill="#0a3b84"/>
</g>
<path d="M145.1 15.6L145.1 3.5L239.4 3.5L239.4 8.1M131.3 103.3L131.3 15.6L158.8 15.6L158.8 23.7M143.4 30.6L143.4 23.7L174.3 23.7L174.3 24.7M138.2 103.3L138.2 30.6L148.5 30.6L148.5 39.8M145.1 103.3L145.1 39.8L152.0 39.8L152.0 103.3M164.0 36.9L164.0 24.7L184.6 24.7L184.6 34.6M158.8 103.3L158.8 36.9L169.2 36.9L169.2 46.4M165.7 103.3L165.7 46.4L172.6 46.4L172.6 103.3M179.5 103.3L179.5 34.6L189.8 34.6L189.8 41.5M186.3 103.3L186.3 41.5L193.2 41.5L193.2 103.3M215.6 19.6L215.6 8.1L263.3 8.1L263.3 27.3M205.2 31.1L205.2 19.6L225.9 19.6L225.9 26.3M200.1 103.3L200.1 31.1L210.4 31.1L210.4 42.4M207.0 103.3L207.0 42.4L213.8 42.4L213.8 103.3M220.7 103.3L220.7 26.3L231.0 26.3L231.0 44.1M227.6 103.3L227.6 44.1L234.5 44.1L234.5 103.3M247.4 41.5L247.4 27.3L279.1 27.3L279.1 42.0M241.3 103.3L241.3 41.5L253.4 41.5L253.4 45.0M248.2 103.3L248.2 45.0L258.5 45.0L258.5 54.5M255.1 103.3L255.1 54.5L262.0 54.5L262.0 103.3M272.3 51.4L272.3 42.0L286.0 42.0L286.0 53.6M268.8 103.3L268.8 51.4L275.7 51.4L275.7 103.3M282.6 103.3L282.6 53.6L289.5 53.6L289.5 103.3" fill="none" stroke="#111" stroke-width="0.75"/>
<path d="M36.3 254.9L24.2 254.9L24.2 160.6L28.8 160.6M124.4 268.7L36.3 268.7L36.3 241.2L44.5 241.2M51.4 256.6L44.5 256.6L44.5 225.7L45.5 225.7M124.4 261.8L51.4 261.8L51.4 251.5L60.6 251.5M124.4 254.9L60.6 254.9L60.6 248.0L124.4 248.0M57.7 236.0L45.5 236.0L45.5 215.4L55.4 215.4M124.4 241.2L57.7 241.2L57.7 230.8L67.3 230.8M124.4 234.3L67.3 234.3L67.3 227.4L124.4 227.4M124.4 220.5L55.4 220.5L55.4 210.2L62.4 210.2M124.4 213.7L62.4 213.7L62.4 206.8L124.4 206.8M40.4 184.4L28.8 184.4L28.8 136.7L48.1 136.7M51.9 194.8L40.4 194.8L40.4 174.1L47.1 174.1M124.4 199.9L51.9 199.9L51.9 189.6L63.3 189.6M124.4 193.0L63.3 193.0L63.3 186.2L124.4 186.2M124.4 179.3L47.1 179.3L47.1 169.0L65.0 169.0M124.4 172.4L65.0 172.4L65.0 165.5L124.4 165.5M62.4 152.6L48.1 152.6L48.1 120.9L62.9 120.9M124.4 158.7L62.4 158.7L62.4 146.6L65.9 146.6M124.4 151.8L65.9 151.8L65.9 141.5L75.4 141.5M124.4 144.9L75.4 144.9L75.4 138.0L124.4 138.0M72.3 127.7L62.9 127.7L62.9 114.0L74.5 114.0M124.4 131.2L72.3 131.2L72.3 124.3L124.4 124.3M124.4 117.4L74.5 117.4L74.5 110.5L124.4 110.5" fill="none" stroke="#111" stroke-width="0.75"/>
<g font-size="6.9">
<text x="303" y="113.0">1834</text>
<text x="303" y="119.9">2029</text>
<text x="303" y="126.7">6181</text>
<text x="303" y="133.6">30309</text>
<text x="303" y="140.5">3071</text>
<text x="303" y="147.4">9899</text>
<text x="303" y="154.2">13031</text>
<text x="303" y="161.1">7033</text>
<text x="303" y="168.0">28382</text>
<text x="303" y="174.9">21270</text>
<text x="303" y="181.7">93417</text>
<text x="303" y="188.6">11291</text>
<text x="303" y="195.5">24397</text>
<text x="303" y="202.4">16410</text>
<text x="303" y="209.2">92776</text>
<text x="303" y="216.1">12383</text>
<text x="303" y="223.0">25250</text>
<text x="303" y="229.9">20908</text>
<text x="303" y="236.7">15445</text>
<text x="303" y="243.6">3853</text>
<text x="303" y="250.5">11403</text>
<text x="303" y="257.4">29199</text>
<text x="303" y="264.2">96039</text>
<text x="303" y="271.1">9027</text>
<text transform="translate(133.7 282) rotate(-90)" text-anchor="end">9027</text>
<text transform="translate(140.6 282) rotate(-90)" text-anchor="end">96039</text>
<text transform="translate(147.5 282) rotate(-90)" text-anchor="end">29199</text>
<text transform="translate(154.4 282) rotate(-90)" text-anchor="end">11403</text>
<text transform="translate(161.2 282) rotate(-90)" text-anchor="end">3853</text>
<text transform="translate(168.1 282) rotate(-90)" text-anchor="end">15445</text>
<text transform="translate(175.0 282) rotate(-90)" text-anchor="end">20908</text>
<text transform="translate(181.9 282) rotate(-90)" text-anchor="end">25250</text>
<text transform="translate(188.7 282) rotate(-90)" text-anchor="end">12383</text>
<text transform="translate(195.6 282) rotate(-90)" text-anchor="end">92776</text>
<text transform="translate(202.5 282) rotate(-90)" text-anchor="end">16410</text>
<text transform="translate(209.4 282) rotate(-90)" text-anchor="end">24397</text>
<text transform="translate(216.2 282) rotate(-90)" text-anchor="end">11291</text>
<text transform="translate(223.1 282) rotate(-90)" text-anchor="end">93417</text>
<text transform="translate(230.0 282) rotate(-90)" text-anchor="end">21270</text>
<text transform="translate(236.9 282) rotate(-90)" text-anchor="end">28382</text>
<text transform="translate(243.7 282) rotate(-90)" text-anchor="end">7033</text>
<text transform="translate(250.6 282) rotate(-90)" text-anchor="end">13031</text>
<text transform="translate(257.5 282) rotate(-90)" text-anchor="end">9899</text>
<text transform="translate(264.4 282) rotate(-90)" text-anchor="end">3071</text>
<text transform="translate(271.2 282) rotate(-90)" text-anchor="end">30309</text>
<text transform="translate(278.1 282) rotate(-90)" text-anchor="end">6181</text>
<text transform="translate(285.0 282) rotate(-90)" text-anchor="end">2029</text>
<text transform="translate(291.9 282) rotate(-90)" text-anchor="end">1834</text>
</g>
<rect x="340.5" y="19" width="175.2" height="50" fill="#fff" stroke="#111" stroke-width="0.9"/>
<text x="428.8" y="29.9" font-size="12" font-weight="bold" text-anchor="middle">Legend</text>
<rect x="353.3" y="36.1" width="34.7" height="8.4" fill="#1b9e77" stroke="#222" stroke-width="0.6"/>
<rect x="353.3" y="44.5" width="34.7" height="8.1" fill="#7570b3" stroke="#222" stroke-width="0.6"/>
<rect x="353.3" y="52.6" width="34.7" height="8.2" fill="#d95f02" stroke="#222" stroke-width="0.6"/>
<rect x="438.3" y="36.0" width="34.0" height="8.2" fill="#1b9e77" stroke="#222" stroke-width="0.6"/>
<rect x="438.3" y="44.2" width="34.0" height="8.1" fill="#ee1c25" stroke="#222" stroke-width="0.6"/>
<g font-size="9.65">
<text x="389.6" y="43.8">AML</text><text x="389.6" y="51.9">CML-BC</text><text x="389.6" y="59.7">MDS</text>
<text x="473.8" y="43.1">Absent</text><text x="473.8" y="51.7">Present</text>
</g>
<rect x="340.1" y="106.8" width="178.6" height="164.9" fill="#1b9e77"/>
<rect x="370.1" y="106.80" width="29.8" height="6.87" fill="#ee1c25"/>
<rect x="370.1" y="113.67" width="29.8" height="6.87" fill="#ee1c25"/>
<rect x="458.8" y="120.54" width="30.1" height="6.87" fill="#ee1c25"/>
<rect x="370.1" y="127.42" width="29.8" height="6.87" fill="#ee1c25"/>
<rect x="370.1" y="134.29" width="29.8" height="6.87" fill="#ee1c25"/>
<rect x="488.9" y="134.29" width="29.8" height="6.87" fill="#ee1c25"/>
<rect x="370.1" y="141.16" width="29.8" height="6.87" fill="#ee1c25"/>
<rect x="488.9" y="141.16" width="29.8" height="6.87" fill="#ee1c25"/>
<rect x="370.1" y="148.03" width="29.8" height="6.87" fill="#ee1c25"/>
<rect x="399.9" y="148.03" width="29.1" height="6.87" fill="#ee1c25"/>
<rect x="458.8" y="148.03" width="30.1" height="6.87" fill="#ee1c25"/>
<rect x="399.9" y="154.90" width="29.1" height="6.87" fill="#ee1c25"/>
<rect x="429.0" y="154.90" width="29.8" height="6.87" fill="#ee1c25"/>
<rect x="340.1" y="161.78" width="30.0" height="6.87" fill="#d95f02"/>
<rect x="370.1" y="161.78" width="29.8" height="6.87" fill="#ee1c25"/>
<rect x="399.9" y="161.78" width="29.1" height="6.87" fill="#ee1c25"/>
<rect x="488.9" y="168.65" width="29.8" height="6.87" fill="#ee1c25"/>
<rect x="340.1" y="175.52" width="30.0" height="6.87" fill="#d95f02"/>
<rect x="340.1" y="182.39" width="30.0" height="6.87" fill="#d95f02"/>
<rect x="399.9" y="182.39" width="29.1" height="6.87" fill="#ee1c25"/>
<rect x="370.1" y="189.26" width="29.8" height="6.87" fill="#ee1c25"/>
<rect x="399.9" y="196.14" width="29.1" height="6.87" fill="#ee1c25"/>
<rect x="429.0" y="196.14" width="29.8" height="6.87" fill="#ee1c25"/>
<rect x="458.8" y="196.14" width="30.1" height="6.87" fill="#ee1c25"/>
<rect x="399.9" y="203.01" width="29.1" height="6.87" fill="#ee1c25"/>
<rect x="429.0" y="203.01" width="29.8" height="6.87" fill="#ee1c25"/>
<rect x="340.1" y="209.88" width="30.0" height="6.87" fill="#d95f02"/>
<rect x="340.1" y="216.75" width="30.0" height="6.87" fill="#7570b3"/>
<rect x="370.1" y="223.62" width="29.8" height="6.87" fill="#ee1c25"/>
<rect x="458.8" y="223.62" width="30.1" height="6.87" fill="#ee1c25"/>
<rect x="340.1" y="230.50" width="30.0" height="6.87" fill="#d95f02"/>
<rect x="370.1" y="230.50" width="29.8" height="6.87" fill="#ee1c25"/>
<rect x="370.1" y="237.37" width="29.8" height="6.87" fill="#ee1c25"/>
<rect x="458.8" y="244.24" width="30.1" height="6.87" fill="#ee1c25"/>
<rect x="370.1" y="251.11" width="29.8" height="6.87" fill="#ee1c25"/>
<rect x="370.1" y="257.98" width="29.8" height="6.87" fill="#ee1c25"/>
<rect x="458.8" y="257.98" width="30.1" height="6.87" fill="#ee1c25"/>
<rect x="429.0" y="264.86" width="29.8" height="6.87" fill="#ee1c25"/>
<rect x="458.8" y="264.86" width="30.1" height="6.87" fill="#ee1c25"/>
<path d="M340.1 106.80H518.7M340.1 113.67H518.7M340.1 120.54H518.7M340.1 127.42H518.7M340.1 134.29H518.7M340.1 141.16H518.7M340.1 148.03H518.7M340.1 154.90H518.7M340.1 161.78H518.7M340.1 168.65H518.7M340.1 175.52H518.7M340.1 182.39H518.7M340.1 189.26H518.7M340.1 196.14H518.7M340.1 203.01H518.7M340.1 209.88H518.7M340.1 216.75H518.7M340.1 223.62H518.7M340.1 230.50H518.7M340.1 237.37H518.7M340.1 244.24H518.7M340.1 251.11H518.7M340.1 257.98H518.7M340.1 264.86H518.7M340.1 271.73H518.7M340.1 94.0V271.73M370.1 94.0V271.73M399.9 94.0V271.73M429.0 94.0V271.73M458.8 94.0V271.73M488.9 94.0V271.73M518.7 94.0V271.73M340.1 94.0H518.7" stroke="#000" stroke-opacity="0.82" stroke-width="0.8" fill="none"/>
<g font-size="7.8" font-weight="bold" text-anchor="middle">
<text x="355.1" y="102.6">Type</text>
<text x="385.0" y="102.6">-7/-7q</text>
<text x="414.4" y="102.6" font-style="italic">SF3B1</text>
<text x="443.9" y="102.6" font-style="italic">GATA2</text>
<text x="473.9" y="102.6" font-style="italic">NRAS</text>
<text x="503.8" y="102.6" font-style="italic">ASXL1</text>
</g>
<rect x="201.3" y="322.5" width="34.2" height="10.6" fill="#1b9e77" stroke="#222" stroke-width="0.6"/>
<rect x="201.3" y="333.1" width="34.2" height="10.2" fill="#7570b3" stroke="#222" stroke-width="0.6"/>
<rect x="201.3" y="343.3" width="34.2" height="10.4" fill="#d95f02" stroke="#222" stroke-width="0.6"/>
<g font-size="11.6"><text x="242.8" y="331.8">AML</text><text x="243" y="342.4">CML-BC</text><text x="243" y="352">MDS</text></g>
<rect x="38.3" y="367.5" width="438.6" height="299.3" fill="none" stroke="#3c3c3c" stroke-width="1"/>
<path d="M95.4 666.8v2.5M95.4 367.5v-2.5M185.2 666.8v2.5M185.2 367.5v-2.5M275.0 666.8v2.5M275.0 367.5v-2.5M364.8 666.8v2.5M364.8 367.5v-2.5M454.6 666.8v2.5M454.6 367.5v-2.5M38.3 656.5h-2.5M476.9 656.5h2.5M38.3 611.7h-2.5M476.9 611.7h2.5M38.3 566.9h-2.5M476.9 566.9h2.5M38.3 522.0h-2.5M476.9 522.0h2.5M38.3 477.1h-2.5M476.9 477.1h2.5M38.3 432.3h-2.5M476.9 432.3h2.5M38.3 387.4h-2.5M476.9 387.4h2.5" stroke="#333" stroke-width="0.8" fill="none"/>
<g font-size="11.1" text-anchor="middle">
<text x="95.2" y="681.3">-20</text>
<text x="185.0" y="681.3">-10</text>
<text x="275.0" y="681.3">0</text>
<text x="364.8" y="681.3">10</text>
<text x="454.6" y="681.3">20</text>
</g><g font-size="11.1" text-anchor="end">
<text x="32.8" y="660.8">-15</text>
<text x="32.8" y="615.9">-10</text>
<text x="32.8" y="571.1">-5</text>
<text x="32.8" y="526.2">0</text>
<text x="32.8" y="481.3">5</text>
<text x="32.8" y="436.5">10</text>
<text x="32.8" y="391.6">15</text>
</g>
<text x="257.4" y="695.5" font-size="11.1" text-anchor="middle">PC1</text>
<text transform="translate(10.5 517.1) rotate(-90)" font-size="11.4" text-anchor="middle">PC2</text>
<circle cx="255.75" cy="385.75" r="4.3" fill="#1b9e77"/>
<circle cx="325.2" cy="405.3" r="4.3" fill="#1b9e77"/>
<circle cx="326" cy="425" r="4.3" fill="#1b9e77"/>
<circle cx="324.4" cy="444.8" r="4.3" fill="#7570b3"/>
<circle cx="335" cy="442.5" r="4.3" fill="#1b9e77"/>
<circle cx="182.5" cy="458.25" r="4.3" fill="#1b9e77"/>
<circle cx="130.25" cy="475" r="4.3" fill="#1b9e77"/>
<circle cx="214.5" cy="486.25" r="4.3" fill="#1b9e77"/>
<circle cx="279.5" cy="484.5" r="4.3" fill="#d95f02"/>
<circle cx="251" cy="498" r="4.3" fill="#d95f02"/>
<circle cx="374.25" cy="506" r="4.3" fill="#1b9e77"/>
<circle cx="370" cy="520" r="4.3" fill="#1b9e77"/>
<circle cx="65.5" cy="530" r="4.3" fill="#d95f02"/>
<circle cx="283.75" cy="539.5" r="4.3" fill="#d95f02"/>
<circle cx="341.25" cy="533.25" r="4.3" fill="#1b9e77"/>
<circle cx="310.75" cy="551.25" r="4.3" fill="#1b9e77"/>
<circle cx="179.5" cy="563.25" r="4.3" fill="#1b9e77"/>
<circle cx="254.25" cy="573" r="4.3" fill="#1b9e77"/>
<circle cx="272.25" cy="597.5" r="4.3" fill="#1b9e77"/>
<circle cx="299" cy="598" r="4.3" fill="#1b9e77"/>
<circle cx="450" cy="597.1" r="4.3" fill="#1b9e77"/>
<circle cx="236.6" cy="619.25" r="4.3" fill="#d95f02"/>
<circle cx="174.5" cy="648" r="4.3" fill="#1b9e77"/>
<circle cx="358.3" cy="639.2" r="4.3" fill="#1b9e77"/>
<g font-size="8.8" text-anchor="middle">
<text x="255.75" y="399.25">2029</text>
<text x="325" y="419">7033</text>
<text x="325.75" y="436.75">20908</text>
<text x="315.6" y="457.7">25250</text>
<text x="340.6" y="455.75">3853</text>
<text x="182.5" y="472">1834</text>
<text x="130" y="488.7">30309</text>
<text x="214.5" y="500.5">6181</text>
<text x="279.5" y="498">11291</text>
<text x="251" y="511.75">15445</text>
<text x="375" y="500.5">9027</text>
<text x="369.5" y="533.75">3071</text>
<text x="65" y="544.25">28382</text>
<text x="283.75" y="553">93417</text>
<text x="341.25" y="546.75">92776</text>
<text x="310.75" y="565">9899</text>
<text x="179" y="576.75">24397</text>
<text x="254.25" y="587">16410</text>
<text x="272" y="610.75">13031</text>
<text x="299" y="611.25">96039</text>
<text x="450" y="610.9">11403</text>
<text x="236.5" y="632.5">12383</text>
<text x="174.5" y="662">21270</text>
<text x="358" y="653">29199</text>
</g>
</svg>
</body></html>
